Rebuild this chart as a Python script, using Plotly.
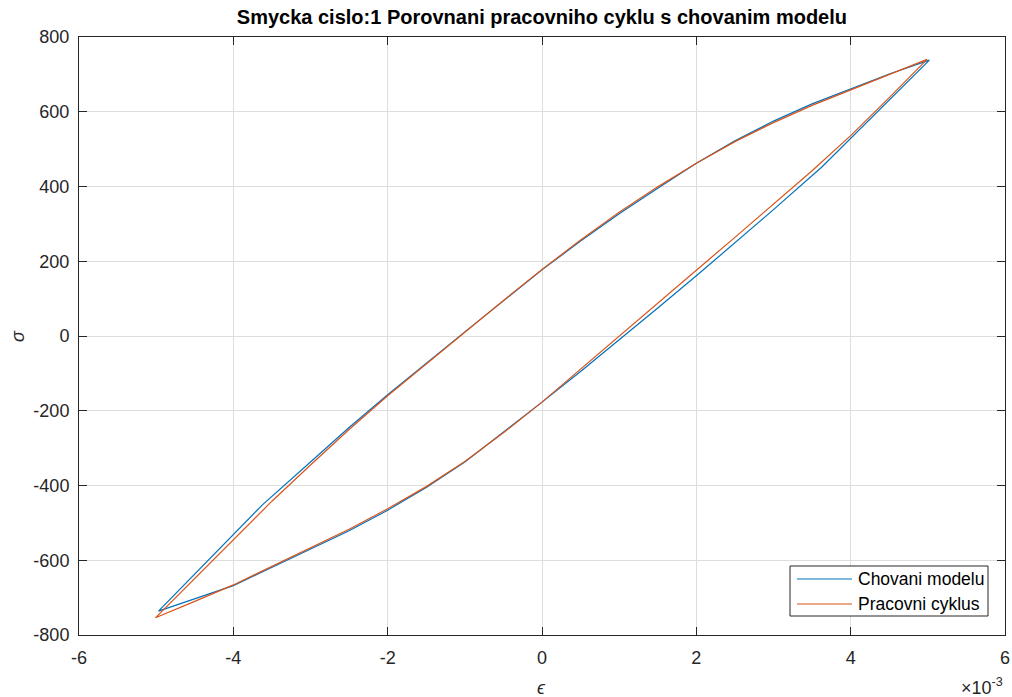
import plotly.graph_objects as go

# Strain values are given in units of 1e-3 (axis multiplier shown at bottom right)
# Pracovni cyklus: measured working loop, ascending and descending branches
eps_cyklus_up = [-5.01, -4.5, -4.0, -3.5, -3.0, -2.5, -2.0, -1.5, -1.0, -0.5, 0.0,
                 0.5, 1.0, 1.5, 2.0, 2.5, 3.0, 3.5, 4.0, 4.5, 4.99]
sig_cyklus_up = [-754, -648, -544, -442, -345, -250, -160, -74, 10, 95, 178,
                 257, 331, 399, 462, 520, 571, 617, 659, 699, 740]
eps_cyklus_down = [4.99, 4.5, 4.0, 3.5, 3.0, 2.5, 2.0, 1.5, 1.0, 0.5, 0.0,
                   -0.5, -1.0, -1.5, -2.0, -2.5, -3.0, -3.5, -4.0, -4.5, -5.01]
sig_cyklus_down = [740, 638, 536, 442, 352, 264, 176, 88, 0, -90, -177,
                   -259, -336, -403, -462, -517, -566, -616, -666, -710, -754]

# Chovani modelu: multilinear model response over the same cycle
eps_model_up = [-4.97, -3.62, -3.0, -2.5, -2.0, -1.5, -1.0, -0.5, 0.0, 0.5, 1.0,
                1.5, 2.0, 2.5, 3.0, 3.5, 4.0, 4.5, 5.02]
sig_model_up = [-736, -451, -337, -245, -157, -72, 11, 94, 177, 254, 327,
                395, 462, 522, 575, 621, 662, 701, 738]
eps_model_down = [5.02, 4.5, 4.0, 3.63, 3.0, 2.5, 2.0, 1.5, 1.0, 0.5, 0.0,
                  -0.5, -1.0, -1.5, -2.0, -2.5, -3.0, -3.5, -4.0, -4.97]
sig_model_down = [738, 631, 527, 453, 338, 249, 161, 75, -10, -95, -177,
                  -258, -337, -405, -466, -521, -570, -620, -668, -736]

x_ticks = [-6, -4, -2, 0, 2, 4, 6]
y_ticks = [-800, -600, -400, -200, 0, 200, 400, 600, 800]

series_names = ["Chovani modelu", "Pracovni cyklus"]

BLUE = "#0072BD"
ORANGE = "#D95319"
AXIS = "#262626"
GRID = "#dedede"
FONT = "Liberation Sans, Arial, sans-serif"

fig = go.Figure()
fig.add_trace(go.Scatter(
    x=eps_model_up + eps_model_down[1:], y=sig_model_up + sig_model_down[1:],
    mode="lines", name=series_names[0], line=dict(color=BLUE, width=1.2)))
fig.add_trace(go.Scatter(
    x=eps_cyklus_up + eps_cyklus_down[1:], y=sig_cyklus_up + sig_cyklus_down[1:],
    mode="lines", name=series_names[1], line=dict(color=ORANGE, width=1.2)))

axis_common = dict(
    showline=True, linecolor=AXIS, linewidth=1, mirror="ticks",
    ticks="inside", ticklen=8, tickwidth=1, tickcolor=AXIS,
    showgrid=True, gridcolor=GRID, gridwidth=1, zeroline=False,
    automargin=False,
    tickfont=dict(family=FONT, size=18, color=AXIS),
)

fig.update_xaxes(
    range=[-6, 6], tickvals=x_ticks,
    ticktext=[str(v) for v in x_ticks], ticklabelstandoff=6,
    **axis_common)
fig.update_yaxes(
    range=[-800, 800], tickvals=y_ticks,
    ticktext=[str(v) for v in y_ticks], ticklabelstandoff=5,
    **axis_common)

# Axes box in pixels; decorations below are placed in paper coordinates
L, R, T, B = 79, 1005, 37, 635
W, H = R - L, B - T
def px_x(p):
    return (p - L) / W
def px_y(p):
    return (B - p) / H

shapes = [dict(type="rect", xref="paper", yref="paper",
               x0=px_x(790), x1=px_x(988), y0=px_y(616), y1=px_y(566),
               line=dict(color=AXIS, width=1), fillcolor="white", layer="above")]
annotations = []
for name, color, row in zip(series_names, [BLUE, ORANGE], [579, 604]):
    shapes.append(dict(type="line", xref="paper", yref="paper",
                       x0=px_x(797), x1=px_x(852), y0=px_y(row), y1=px_y(row),
                       line=dict(color=color, width=1.2), layer="above"))
    annotations.append(dict(text=name, xref="paper", yref="paper",
                            x=px_x(856), y=px_y(row), xanchor="left", yanchor="middle",
                            showarrow=False,
                            font=dict(family=FONT, size=17.5, color="black")))

# Axis titles
annotations.append(dict(
    text="<i>ϵ</i>", xref="paper", yref="paper", x=px_x(541), y=px_y(688),
    xanchor="center", yanchor="middle", showarrow=False,
    font=dict(family=FONT, size=18, color=AXIS)))
annotations.append(dict(
    text="<i>σ</i>", xref="paper", yref="paper", x=px_x(18), y=px_y(336),
    xanchor="center", yanchor="middle", showarrow=False, textangle=-90,
    font=dict(family=FONT, size=18, color=AXIS)))

# Exponent multiplier of the strain axis
annotations.append(dict(
    text="×10<sup>-3</sup>", xref="paper", yref="paper",
    x=1.0, y=px_y(686), xanchor="right", yanchor="middle", showarrow=False,
    font=dict(family=FONT, size=18, color=AXIS)))

fig.update_layout(
    width=1012, height=697,
    margin=dict(l=79, r=7, t=37, b=62),
    paper_bgcolor="white", plot_bgcolor="white",
    font=dict(family=FONT, color=AXIS),
    title=dict(
        text="<b>Smycka cislo:1 Porovnani pracovniho cyklu s chovanim modelu</b>",
        x=0.5355, xanchor="center", y=0.975, yanchor="middle",
        font=dict(family=FONT, size=20, color="black")),
    showlegend=False,
    shapes=shapes,
    annotations=annotations,
)

fig.write_html("out.html")
